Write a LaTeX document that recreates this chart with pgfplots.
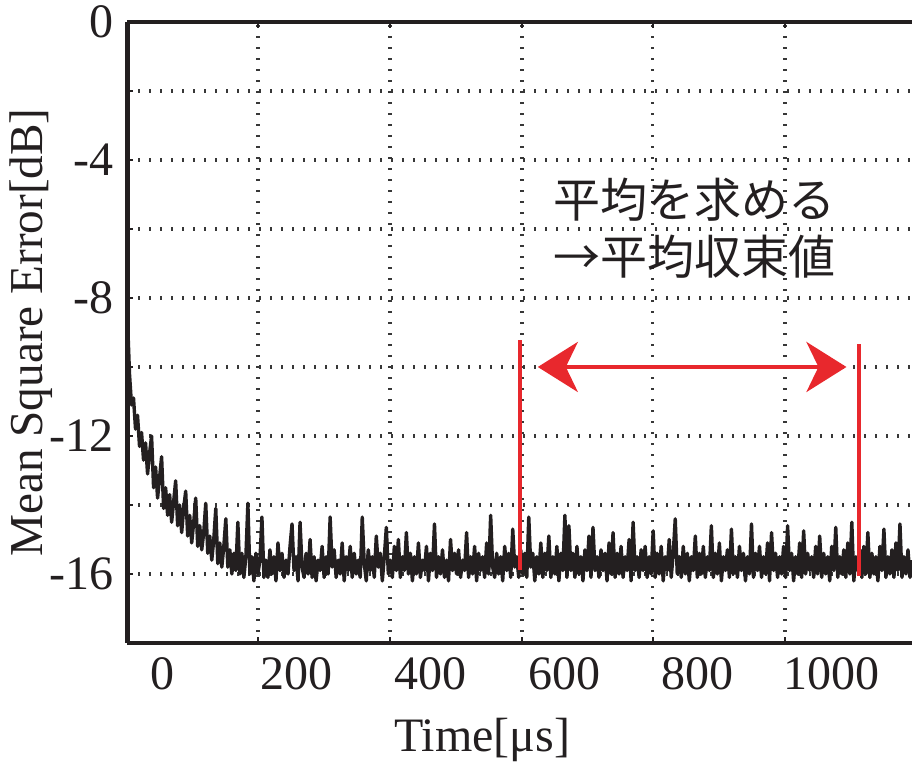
\documentclass[border=0pt]{standalone}
\usepackage{fontspec}
\setmainfont{Liberation Serif}
\newfontfamily\jp{Noto Sans CJK JP}
\usepackage{pgfplots}
\pgfplotsset{compat=1.18}
\usetikzlibrary{arrows.meta,calc}

\definecolor{ink}{RGB}{35,31,32}
\definecolor{markred}{RGB}{232,40,45}
\definecolor{gridgray}{RGB}{55,55,55}

\begin{document}
\begin{tikzpicture}
\begin{axis}[
  scale only axis,
  width=196.125pt, height=155.25pt,
  xmin=-53, xmax=1120,
  ymin=-18, ymax=0,
  axis y line*=left,
  axis line style={ink, line width=1.2pt},
  xtick={142,339,537,732,930},
  xticklabels={},
  extra x ticks={0,200,400,600,800,1000},
  extra x tick labels={0,200,400,600,800,1000},
  extra x tick style={grid=none, major tick length=0pt},
  ytick={-16,-14,-12,-10,-8,-6,-4,-2,0},
  yticklabels={-16,,-12,,-8,,-4,,0},
  xmajorgrids, ymajorgrids,
  major grid style={gridgray, line width=0.95pt, dash pattern=on 0.45pt off 2.3pt},
  major tick length=1.5pt,
  tick style={ink, line width=0.5pt},
  tick label style={font=\fontsize{12}{14}\selectfont, text=ink},
  xlabel={Time[μs]},
  ylabel={Mean Square Error[dB]},
  every axis x label/.style={at={(axis description cs:0.452,0)}, anchor=north, yshift=-18.5pt, inner sep=0pt, font=\fontsize{12}{14}\selectfont, text=ink},
  every axis y label/.style={at={(axis description cs:-0.1224,0.5)}, anchor=center, rotate=90, inner sep=0pt, font=\fontsize{11.8}{14}\selectfont, text=ink},
  clip=false,
]
\coordinate (bl) at (rel axis cs:0,0);
\coordinate (tr) at (rel axis cs:1,1);

% mean square error of the adaptive filter
\addplot[ink, line width=0.85pt, line join=round] coordinates {
(-53,-8.6) (-50,-10.2) (-47,-11.1) (-44,-10.9) (-41,-11.8) (-38,-11.4) (-35,-12.3) (-32,-11.9)
(-29,-12.7) (-26,-12.2) (-23,-13.1) (-20,-12.5) (-17,-12.0) (-14,-13.5) (-11,-12.9) (-8,-13.8)
(-5,-13.2) (-2,-12.6) (1,-14.1) (4,-13.5) (7,-14.3) (10,-13.7) (13,-14.5) (16,-13.9)
(19,-13.3) (22,-14.6) (25,-14.0) (28,-14.8) (31,-14.1) (34,-13.6) (37,-14.9) (40,-14.3)
(43,-15.1) (46,-14.5) (49,-13.8) (52,-15.2) (55,-14.6) (58,-15.3) (61,-14.8) (64,-13.95)
(67,-15.4) (70,-14.9) (73,-15.6) (76,-15.0) (79,-14.1) (82,-15.7) (85,-15.1) (88,-15.8)
(91,-15.2) (94,-14.4) (97,-15.8) (100,-15.3) (103,-16.0) (106,-15.4) (109,-15.9) (112,-14.5)
(115,-16.0) (118,-15.4) (121,-16.1) (124,-15.5) (127,-13.95) (130,-16.0) (133,-15.5) (136,-16.2)
(139,-15.4) (142,-16.0) (145,-15.6) (148,-14.35) (151,-16.1)
(154,-15.6) (157,-16.1) (160,-15.3) (163,-16.0) (166,-15.5) (169,-16.2) (172,-15.1) (175,-15.9)
(178,-15.4) (181,-16.1) (184,-15.6) (187,-16.0) (190,-15.2) (193,-14.55) (196,-15.9) (199,-15.5)
(202,-16.2) (205,-14.5) (208,-15.8) (211,-16.1) (214,-15.4) (217,-16.0) (220,-15.0) (223,-16.1)
(226,-15.5) (229,-16.2) (232,-15.6) (235,-15.9) (238,-15.2) (241,-16.1) (244,-15.5) (247,-16.0)
(250,-14.35) (253,-15.8) (256,-15.3) (259,-16.1) (262,-15.6) (265,-16.0) (268,-15.1) (271,-16.2)
(274,-15.5) (277,-15.9) (280,-15.2) (283,-16.1) (286,-15.4) (289,-16.0) (292,-15.6) (295,-16.1)
(298,-14.35) (301,-15.7) (304,-16.2) (307,-15.3) (310,-15.9) (313,-15.5) (316,-16.1) (319,-14.9)
(322,-15.8) (325,-15.4) (328,-16.2) (331,-15.5) (334,-14.65) (337,-16.0) (340,-15.6) (343,-16.1)
(346,-15.2) (349,-15.9) (352,-15.0) (355,-16.1) (358,-15.5) (361,-15.9) (364,-14.8) (367,-16.0)
(370,-15.4) (373,-16.2) (376,-15.5) (379,-16.0) (382,-15.1) (385,-16.1) (388,-15.6) (391,-15.9)
(394,-15.2) (397,-16.2) (400,-15.4) (403,-15.9) (406,-14.55) (409,-16.1) (412,-15.5) (415,-16.0)
(418,-15.3) (421,-16.1) (424,-15.6) (427,-16.2) (430,-15.0) (433,-15.9) (436,-15.4) (439,-16.0)
(442,-15.3) (445,-16.1) (448,-15.6) (451,-15.9) (454,-14.8) (457,-16.1) (460,-15.5) (463,-16.0)
(466,-15.2) (469,-16.2) (472,-15.4) (475,-15.9) (478,-15.5) (481,-16.1) (484,-15.1) (487,-16.0)
(490,-14.3) (493,-15.8) (496,-16.1) (499,-15.4) (502,-16.0) (505,-15.5) (508,-16.2) (511,-15.2)
(514,-15.9) (517,-15.4) (520,-16.1) (523,-14.7) (526,-15.8) (529,-15.5) (532,-16.1) (535,-15.3)
(538,-16.0) (541,-15.4) (544,-16.1) (547,-14.35) (550,-15.8) (553,-15.4) (556,-16.2) (559,-15.5)
(562,-16.0) (565,-15.1) (568,-16.1) (571,-15.4) (574,-15.9) (577,-14.9) (580,-16.1) (583,-15.5)
(586,-16.0) (589,-15.2) (592,-16.2) (595,-15.4) (598,-15.9) (601,-14.3) (604,-16.1) (607,-14.6)
(610,-15.9) (613,-15.4) (616,-16.1) (619,-15.2) (622,-16.0) (625,-15.5) (628,-16.2) (631,-15.3)
(634,-15.9) (637,-14.9) (640,-16.1) (643,-14.65) (646,-15.9) (649,-15.5) (652,-16.1) (655,-15.3)
(658,-15.9) (661,-15.4) (664,-16.2) (667,-15.1) (670,-16.0) (673,-14.8) (676,-16.1) (679,-15.4)
(682,-16.0) (685,-15.2) (688,-16.1) (691,-15.5) (694,-15.9) (697,-15.0) (700,-16.2) (703,-14.5)
(706,-15.9) (709,-15.5) (712,-16.1) (715,-15.3) (718,-15.9) (721,-15.2) (724,-16.1) (727,-15.5)
(730,-16.0) (733,-14.75) (736,-16.1) (739,-15.4) (742,-16.0) (745,-15.2) (748,-16.2) (751,-15.5)
(754,-15.9) (757,-15.0) (760,-16.1) (763,-15.4) (766,-14.4) (769,-16.0) (772,-15.5) (775,-16.1)
(778,-15.2) (781,-16.0) (784,-15.4) (787,-16.2) (790,-15.5) (793,-15.9) (796,-14.9) (799,-16.1)
(802,-15.4) (805,-16.0) (808,-15.2) (811,-16.1) (814,-15.5) (817,-15.9) (820,-14.6) (823,-16.1)
(826,-15.4) (829,-16.0) (832,-15.1) (835,-16.2) (838,-15.5) (841,-15.9) (844,-15.3) (847,-16.1)
(850,-14.7) (853,-16.0) (856,-15.5) (859,-16.1) (862,-15.2) (865,-15.9) (868,-15.4) (871,-16.2)
(874,-15.5) (877,-16.0) (880,-14.55) (883,-16.1) (886,-15.4) (889,-15.9) (892,-15.2) (895,-16.1)
(898,-15.5) (901,-16.0) (904,-15.1) (907,-16.2) (910,-14.8) (913,-15.9) (916,-15.4) (919,-16.1)
(922,-15.5) (925,-16.0) (928,-15.2) (931,-16.1) (934,-14.6) (937,-15.9) (940,-15.4) (943,-16.2)
(946,-15.5) (949,-16.0) (952,-15.1) (955,-16.1) (958,-14.75) (961,-16.0) (964,-15.4) (967,-15.9)
(970,-15.5) (973,-16.1) (976,-15.2) (979,-16.0) (982,-14.9) (985,-16.1) (988,-15.4) (991,-16.0)
(994,-15.5) (997,-16.2) (1000,-15.2) (1003,-15.9) (1006,-14.65) (1009,-16.1) (1012,-15.5) (1015,-16.0)
(1018,-15.3) (1021,-16.1) (1024,-15.1) (1027,-16.0) (1030,-14.5) (1033,-16.2) (1036,-15.5) (1039,-15.9)
(1042,-15.3) (1045,-16.1) (1048,-15.2) (1051,-16.0) (1054,-14.8) (1057,-16.1) (1060,-15.4) (1063,-16.0)
(1066,-15.5) (1069,-16.2) (1072,-15.2) (1075,-15.9) (1078,-14.7) (1081,-16.1) (1084,-15.5) (1087,-16.0)
(1090,-15.3) (1093,-16.1) (1096,-15.1) (1099,-15.9) (1102,-14.55) (1105,-16.1) (1108,-15.5) (1111,-16.0)
(1114,-15.3) (1117,-16.1) (1120,-15.6)
};

% averaging window
\addplot[markred, line width=1pt] coordinates {(533.6,-15.88) (533.6,-9.22)};
\addplot[markred, line width=1pt] coordinates {(1040,-16.06) (1040,-9.33)};
\addplot[markred, line width=1pt,
  {Stealth[length=10pt,width=12.5pt,inset=3pt]}-{Stealth[length=10pt,width=12.5pt,inset=3pt]}]
  coordinates {(560.5,-10) (1022,-10)};

\node[anchor=west, inner sep=0pt, text=ink, font=\jp\fontsize{11.75}{14}\selectfont]
  at (axis cs:583,-5.16) {平均を求める};
\node[anchor=west, inner sep=0pt, text=ink, font=\jp\fontsize{11.75}{14}\selectfont]
  at (axis cs:583,-6.81) {→平均収束値};
\end{axis}
\pgfresetboundingbox
\path[use as bounding box] ($(bl)+(-31.875pt,-31pt)$) rectangle ($(tr)+(0pt,5.5pt)$);
\end{tikzpicture}
\end{document}
